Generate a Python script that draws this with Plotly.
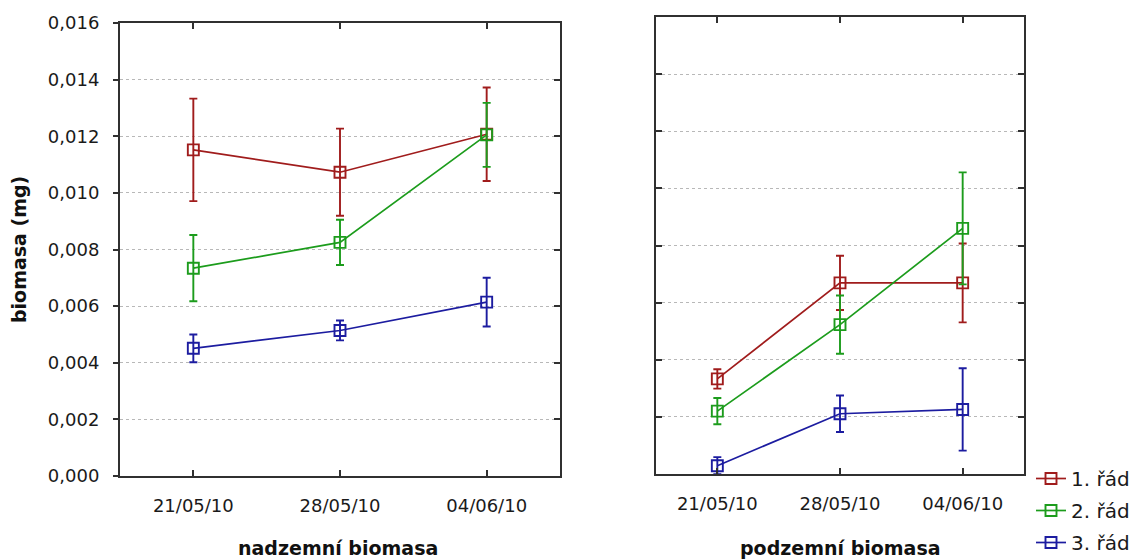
import plotly.graph_objects as go

# Sampling dates (categories on the x axis)
dates = ["21/05/10", "28/05/10", "04/06/10"]
series_names = ["1. řád", "2. řád", "3. řád"]
colors = ["#a01c1c", "#1c9c1c", "#1c1ca0"]

# Above-ground biomass (mg): means and error half-widths
above_mean = {
    "1. řád": [0.01152, 0.01073, 0.01207],
    "2. řád": [0.00734, 0.00825, 0.01205],
    "3. řád": [0.00451, 0.00514, 0.00614],
}
above_err = {
    "1. řád": [0.00181, 0.00154, 0.00165],
    "2. řád": [0.00117, 0.00080, 0.00113],
    "3. řád": [0.00049, 0.00035, 0.00086],
}

# Below-ground biomass (mg): means and error half-widths
below_mean = {
    "1. řád": [0.00333, 0.00669, 0.00669],
    "2. řád": [0.00220, 0.00523, 0.00860],
    "3. řád": [0.00029, 0.00211, 0.00226],
}
below_err = {
    "1. řád": [0.00034, 0.00095, 0.00138],
    "2. řád": [0.00046, 0.00102, 0.00196],
    "3. řád": [0.00030, 0.00064, 0.00144],
}

y_ticks = [0.000, 0.002, 0.004, 0.006, 0.008, 0.010, 0.012, 0.014, 0.016]
y_range = [0, 0.016]
x_pos = list(range(len(dates)))

W, H = 1136, 559
FONT = "DejaVu Sans, Arial, sans-serif"
FRAME = "#303030"

fig = go.Figure()


def add_series(means, errs, xa, ya, show_legend):
    for name, col in zip(series_names, colors):
        fig.add_trace(go.Scatter(
            x=x_pos, y=means[name], xaxis=xa, yaxis=ya,
            mode="lines+markers", name=name, showlegend=show_legend,
            legendgroup=name,
            line=dict(color=col, width=1.7),
            marker=dict(symbol="square-open", size=11, color=col,
                        line=dict(color=col, width=1.9)),
            error_y=dict(type="data", array=errs[name], visible=True,
                         color=col, thickness=1.9, width=4),
        ))


add_series(above_mean, above_err, "x", "y", True)
add_series(below_mean, below_err, "x2", "y2", False)

# invisible helper trace so the right-side tick axis of the left panel is drawn
fig.add_trace(go.Scatter(x=[None], y=[None], xaxis="x", yaxis="y3",
                         showlegend=False, hoverinfo="skip"))

xl = [120 / W, 560 / W]
xr = [656 / W, 1024 / W]
yl = [1 - 476 / H, 1 - 23 / H]
yr = [1 - 474 / H, 1 - 17 / H]

tick_font = dict(family=FONT, size=18, color="#1a1a1a")

x_common = dict(
    range=[-0.5, 2.5], tickmode="array", tickvals=x_pos, ticktext=dates,
    ticks="inside", ticklen=6, tickwidth=1.5, tickcolor=FRAME,
    showline=True, linecolor=FRAME, linewidth=2, mirror="ticks",
    showgrid=False, zeroline=False, tickfont=tick_font,
    ticklabelstandoff=12, fixedrange=True, automargin=False,
)

fig.update_layout(
    width=W, height=H,
    margin=dict(l=0, r=0, t=0, b=0, autoexpand=False),
    paper_bgcolor="white", plot_bgcolor="white",
    separators=", ",
    font=dict(family=FONT, color="#1a1a1a"),
    xaxis=dict(domain=xl, anchor="y", **x_common),
    xaxis2=dict(domain=xr, anchor="y2", **x_common),
    yaxis=dict(
        domain=yl, anchor="x", range=y_range, tickmode="array",
        tickvals=y_ticks, tickformat=".3f",
        ticks="outside", ticklen=5, tickwidth=1.5, tickcolor=FRAME,
        showline=True, linecolor=FRAME, linewidth=2, mirror=True,
        showgrid=True, gridcolor="#b8b8b8", griddash="dot", gridwidth=1,
        zeroline=False, tickfont=tick_font, ticklabelstandoff=10,
        automargin=False,
    ),
    yaxis3=dict(
        overlaying="y", anchor="x", side="right", range=y_range,
        tickmode="array", tickvals=y_ticks, ticks="inside", ticklen=6,
        tickwidth=1.5, tickcolor=FRAME, showticklabels=False,
        showline=False, showgrid=False, zeroline=False, automargin=False,
    ),
    yaxis2=dict(
        domain=yr, anchor="x2", range=y_range, tickmode="array",
        tickvals=y_ticks, showticklabels=False,
        ticks="inside", ticklen=6, tickwidth=1.5, tickcolor=FRAME,
        showline=True, linecolor=FRAME, linewidth=2, mirror="ticks",
        showgrid=True, gridcolor="#b8b8b8", griddash="dot", gridwidth=1,
        zeroline=False, automargin=False,
    ),
    legend=dict(
        x=1031 / W, y=1 - 459 / H, xanchor="left", yanchor="top",
        font=dict(family=FONT, size=20, color="#1a1a1a"),
        bgcolor="rgba(0,0,0,0)", itemwidth=30,
        traceorder="grouped", tracegroupgap=3,
    ),
    showlegend=True,
)

title_font = dict(family="DejaVu Sans, Arial, sans-serif", size=19,
                  color="#111111", weight="bold")

fig.add_annotation(text="biomasa (mg)", x=19 / W, y=1 - 250 / H,
                   xref="paper", yref="paper", textangle=-90,
                   showarrow=False, xanchor="center", yanchor="middle",
                   font=title_font)
fig.add_annotation(text="nadzemní biomasa", x=338 / W, y=1 - 548 / H,
                   xref="paper", yref="paper", showarrow=False,
                   xanchor="center", yanchor="middle", font=title_font)
fig.add_annotation(text="podzemní biomasa", x=840 / W, y=1 - 548 / H,
                   xref="paper", yref="paper", showarrow=False,
                   xanchor="center", yanchor="middle", font=title_font)

fig.write_html("out.html")
